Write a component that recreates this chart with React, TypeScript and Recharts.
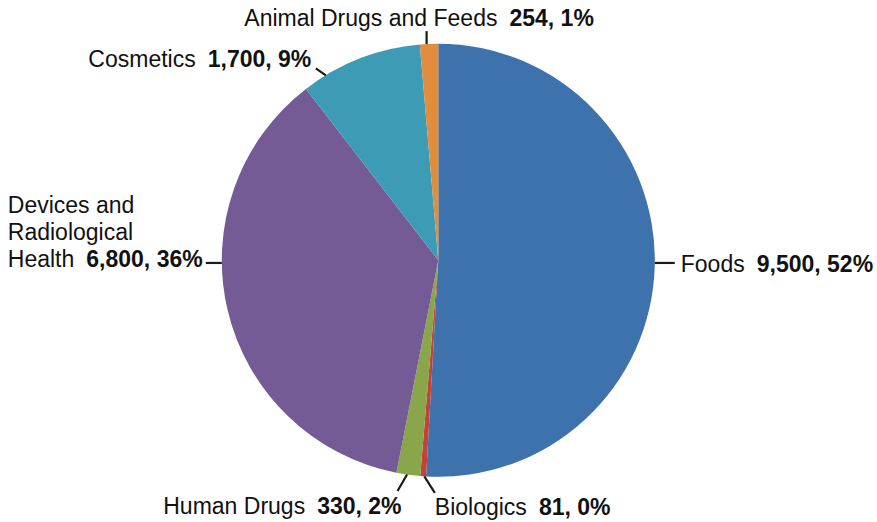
import React from 'react';
import { PieChart, Pie, Cell } from 'recharts';

const categories = [
  'Foods',
  'Biologics',
  'Human Drugs',
  'Devices and\nRadiological\nHealth',
  'Cosmetics',
  'Animal Drugs and Feeds',
];
const counts = [9500, 81, 330, 6800, 1700, 254];
const shares = [52, 0, 2, 36, 9, 1];
const colors = ['#3e72ad', '#c1423b', '#8aa64b', '#745b95', '#3e9bb5', '#e08e3d'];

const data = categories.map((name, i) => ({ name, value: counts[i], share: shares[i] }));

// Leader lines: angle where each leaves the rim (deg clockwise from 12 o'clock),
// the run of the line, and where the text sits relative to the line's end.
const leaders = [
  { at: 90.7, dx: 20, dy: 0, anchor: 'start', tx: 6, ty: 9 },
  { at: 183.7, dx: 10.5, dy: 16.5, anchor: 'start', tx: 0, ty: 22 },
  { at: 188.3, dx: -9.5, dy: 16.5, anchor: 'end', tx: 4, ty: 22.5 },
  { at: 269.3, dx: -16, dy: 0, anchor: 'start', tx: -198, ty: 4 },
  { at: 328.7, dx: -10, dy: -7, anchor: 'end', tx: -4.5, ty: -1.5 },
  { at: 356.9, dx: 0, dy: -13, anchor: 'middle', tx: -7.5, ty: -5 },
];

const LINE_HEIGHT = 27.2;

const renderLabel = (props: any) => {
  const { cx, cy, outerRadius, index } = props;
  const item = data[index];
  const l = leaders[index];
  const rad = (l.at * Math.PI) / 180;
  const x0 = cx + outerRadius * Math.sin(rad);
  const y0 = cy - outerRadius * Math.cos(rad);
  const x1 = x0 + l.dx;
  const y1 = y0 + l.dy;
  const lines = item.name.split('\n');
  const tx = x1 + l.tx;
  const ty = y1 + l.ty;
  return (
    <g>
      <line x1={x0} y1={y0} x2={x1} y2={y1} stroke="#1a1a1a" strokeWidth={2.2} />
      {lines.map((line, k) => {
        const last = k === lines.length - 1;
        return (
          <text
            key={k}
            x={tx}
            y={ty - (lines.length - 1 - k) * LINE_HEIGHT}
            textAnchor={l.anchor}
            fontSize={23}
            fill="#111"
          >
            <tspan>{line}</tspan>
            {last && (
              <tspan dx={12} fontWeight="bold">
                {`${item.value.toLocaleString('en-US')}, ${item.share}%`}
              </tspan>
            )}
          </text>
        );
      })}
    </g>
  );
};

export default function App() {
  return (
    <div style={{ position: 'absolute', left: 0, top: 0, background: '#fff' }}>
      <PieChart
        width={877}
        height={522}
        margin={{ top: 0, right: 0, bottom: 0, left: 0 }}
        style={{ fontFamily: '"Liberation Sans", Arial, Helvetica, sans-serif' }}
      >
        <Pie
          data={data}
          dataKey="value"
          nameKey="name"
          cx={438.3}
          cy={260.3}
          outerRadius={216.5}
          startAngle={90}
          endAngle={-270}
          stroke="none"
          label={renderLabel}
          labelLine={false}
          isAnimationActive={false}
        >
          {data.map((d, i) => (
            <Cell key={d.name} fill={colors[i]} />
          ))}
        </Pie>
      </PieChart>
    </div>
  );
}
